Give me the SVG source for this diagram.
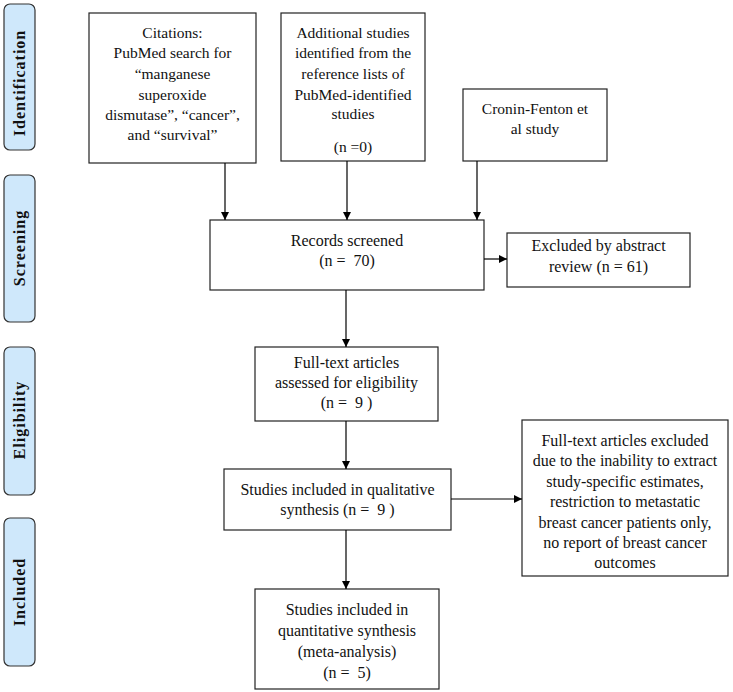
<svg xmlns="http://www.w3.org/2000/svg" width="733" height="692" viewBox="0 0 733 692">
<defs>
<marker id="ah" viewBox="0 0 10 10" refX="10" refY="5" markerWidth="8" markerHeight="8" markerUnits="userSpaceOnUse" orient="auto"><path d="M0,0 L10,5 L0,10 Z" fill="#000"/></marker>
<style>
.box{fill:#fff;stroke:#222;stroke-width:1.2}
.lab{fill:#cfe8fb;stroke:#333;stroke-width:1.2}
.t{font-family:"Liberation Serif",serif;font-size:16px;fill:#111;text-anchor:middle;white-space:pre}
.u{font-size:15.5px}
.s{font-family:"Liberation Serif",serif;font-size:16px;font-weight:bold;fill:#111;text-anchor:middle;letter-spacing:1px}
.c{stroke:#000;stroke-width:1.2;fill:none;marker-end:url(#ah)}
</style>
</defs>
<rect width="733" height="692" fill="#fff"/>
<g id="lab-identification"><rect class="lab" x="4" y="4" width="31" height="146" rx="6"/><text class="s" transform="translate(25,83) rotate(-90)">Identification</text></g>
<g id="lab-screening"><rect class="lab" x="4" y="175" width="31" height="147" rx="6"/><text class="s" transform="translate(25,248) rotate(-90)">Screening</text></g>
<g id="lab-eligibility"><rect class="lab" x="4" y="347" width="31" height="148" rx="6"/><text class="s" transform="translate(25,420) rotate(-90)">Eligibility</text></g>
<g id="lab-included"><rect class="lab" x="4" y="518" width="31" height="148" rx="6"/><text class="s" transform="translate(25,592) rotate(-90)">Included</text></g>
<g id="n-citations"><rect class="box" x="89" y="13" width="167" height="150"/>
<text class="t u" x="172.5" y="38">Citations:</text>
<text class="t u" x="172.5" y="58">PubMed search for</text>
<text class="t u" x="172.5" y="79">“manganese</text>
<text class="t u" x="172.5" y="100">superoxide</text>
<text class="t u" x="172.5" y="120">dismutase”, “cancer”,</text>
<text class="t u" x="172.5" y="140">and “survival”</text></g>
<g id="n-additional"><rect class="box" x="281" y="13" width="144" height="148"/>
<text class="t u" x="353" y="38">Additional studies</text>
<text class="t u" x="353" y="58">identified from the</text>
<text class="t u" x="353" y="79">reference lists of</text>
<text class="t u" x="353" y="100">PubMed-identified</text>
<text class="t u" x="353" y="119">studies</text>
<text class="t u" x="353" y="152">(n =0)</text></g>
<g id="n-cronin"><rect class="box" x="463" y="89" width="144" height="72"/>
<text class="t u" x="535" y="114">Cronin-Fenton et</text>
<text class="t u" x="535" y="134">al study</text></g>
<g id="n-screened"><rect class="box" x="210" y="220" width="274" height="70"/>
<text class="t" x="347" y="246">Records screened</text>
<text class="t" x="347" y="266">(n =  70)</text></g>
<g id="n-excl-abstract"><rect class="box" x="507" y="233" width="183" height="54"/>
<text class="t" x="598.5" y="251">Excluded by abstract</text>
<text class="t" x="598.5" y="272">review (n = 61)</text></g>
<g id="n-fulltext"><rect class="box" x="255" y="347" width="183" height="74"/>
<text class="t" x="346.5" y="368">Full-text articles</text>
<text class="t" x="346.5" y="388">assessed for eligibility</text>
<text class="t" x="346.5" y="408">(n =  9 )</text></g>
<g id="n-qualitative"><rect class="box" x="224" y="469" width="227" height="61"/>
<text class="t" x="337.5" y="495">Studies included in qualitative</text>
<text class="t" x="337.5" y="515">synthesis (n =  9 )</text></g>
<g id="n-excl-fulltext"><rect class="box" x="522" y="420" width="206" height="156"/>
<text class="t" x="625" y="446">Full-text articles excluded</text>
<text class="t" x="625" y="466">due to the inability to extract</text>
<text class="t" x="625" y="487">study-specific estimates,</text>
<text class="t" x="625" y="507">restriction to metastatic</text>
<text class="t" x="625" y="528">breast cancer patients only,</text>
<text class="t" x="625" y="548">no report of breast cancer</text>
<text class="t" x="625" y="568">outcomes</text></g>
<g id="n-meta"><rect class="box" x="255" y="589" width="184" height="100"/>
<text class="t" x="347" y="615">Studies included in</text>
<text class="t" x="347" y="636">quantitative synthesis</text>
<text class="t" x="347" y="657">(meta-analysis)</text>
<text class="t" x="347" y="678">(n =  5)</text></g>
<g id="connectors">
<line class="c" x1="225" y1="163" x2="225" y2="220"/>
<line class="c" x1="347" y1="161" x2="347" y2="220"/>
<line class="c" x1="477" y1="161" x2="477" y2="220"/>
<line class="c" x1="484" y1="259" x2="507" y2="259"/>
<line class="c" x1="346" y1="290" x2="346" y2="347"/>
<line class="c" x1="346" y1="421" x2="346" y2="469"/>
<line class="c" x1="451" y1="499" x2="522" y2="499"/>
<line class="c" x1="346" y1="530" x2="346" y2="589"/>
</g>
</svg>
